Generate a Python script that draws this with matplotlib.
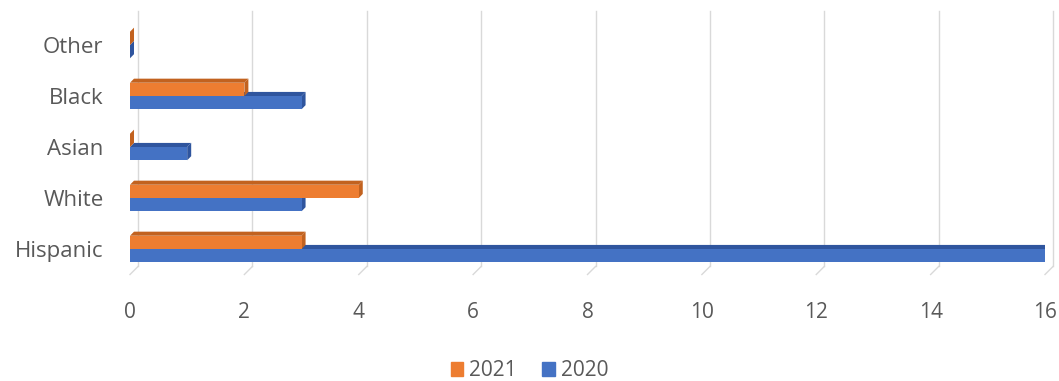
import numpy as np
import matplotlib
matplotlib.use("Agg")
import matplotlib.pyplot as plt
from matplotlib.patches import Patch, Polygon

plt.rcParams['font.family'] = ['Open Sans', 'DejaVu Sans']

categories = ["Hispanic", "White", "Asian", "Black", "Other"]
values_2021 = [3, 4, 0, 2, 0]
values_2020 = [16, 3, 1, 3, 0]
xticks = [0, 2, 4, 6, 8, 10, 12, 14, 16]

orange, orange_dark = "#ED7D31", "#C2621F"
blue, blue_dark = "#4472C4", "#2F559E"
text_color = "#595959"

fig = plt.figure(figsize=(10.59, 3.81), dpi=100)
ax = fig.add_axes([130 / 1059, 1 - 274.5 / 381, 915 / 1059, 255 / 381])
ax.set_xlim(0, 16)
ax.set_ylim(-0.5, 4.5)

# back wall gridlines (3D look)
gdx, gdy = 0.14, 0.157
for v in xticks:
    ax.plot([v + gdx, v + gdx], [-0.5 + gdy, 4.5 + gdy], color="#D9D9D9", lw=1, clip_on=False, zorder=0)
    ax.plot([v, v + gdx], [-0.5, -0.5 + gdy], color="#D9D9D9", lw=1, clip_on=False, zorder=0)

h = 0.26
bdx, bdy = 0.07, 0.08
y = np.arange(len(categories))


def bar3d(yc, v, col, dark):
    bot, top = yc - h / 2, yc + h / 2
    ax.add_patch(Polygon([(0, top), (v, top), (v + bdx, top + bdy), (bdx, top + bdy)],
                         closed=True, color=dark, lw=0, zorder=2))
    ax.add_patch(Polygon([(v, bot), (v, top), (v + bdx, top + bdy), (v + bdx, bot + bdy)],
                         closed=True, color=dark, lw=0, zorder=2))
    ax.barh(yc, v, height=h, color=col, lw=0, zorder=3)


for i in range(len(categories)):
    bar3d(y[i] - h / 2, values_2020[i], blue, blue_dark)
for i in range(len(categories)):
    bar3d(y[i] + h / 2, values_2021[i], orange, orange_dark)

ax.set_yticks(y)
ax.set_yticklabels(categories)
ax.set_xticks(xticks)
ax.tick_params(axis="both", length=0, colors=text_color)
ax.tick_params(axis="y", pad=19, labelsize=16)
ax.tick_params(axis="x", pad=20, labelsize=15)
for s in ax.spines.values():
    s.set_visible(False)

handles = [Patch(color=orange, label="2021"), Patch(color=blue, label="2020")]
fig.legend(handles=handles, loc="lower center", ncol=2, frameon=False,
           bbox_to_anchor=(0.5, -0.05), fontsize=15, labelcolor=text_color,
           handlelength=0.6, handleheight=0.6, handletextpad=0.3, columnspacing=1.2)

fig.savefig("out.png", dpi=100)
